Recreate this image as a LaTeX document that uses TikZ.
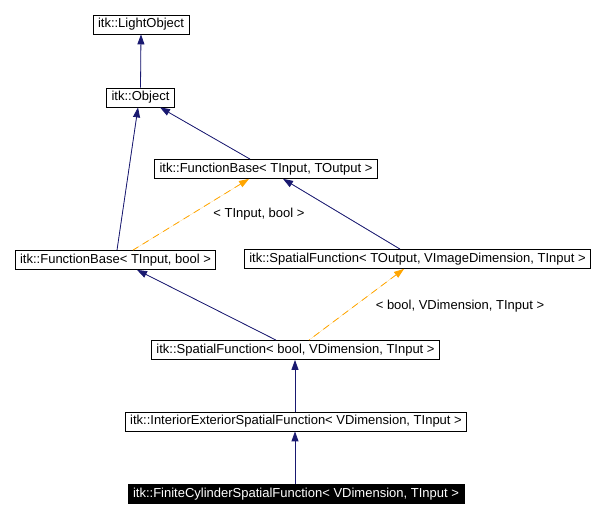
\documentclass[tikz,border=0pt]{standalone}
\usepackage{fontspec}
\setmainfont{Liberation Sans}
\usepackage{tikz}
\usetikzlibrary{arrows.meta}
\definecolor{inhblue}{RGB}{25,25,112}
\definecolor{tmplorange}{RGB}{255,165,0}

\begin{document}
\begin{tikzpicture}[x=1pt, y=-1pt,
  box/.style={draw, thick, minimum height=19pt, inner xsep=5pt, inner ysep=0pt, text height=9.5pt, text depth=2.5pt, font=\fontsize{13}{15}\selectfont},
  hl/.style={box, fill=black, text=white},
  inh/.style={{Triangle[length=10pt, width=7pt]}-, draw=inhblue, fill=inhblue, line width=0.8pt},
  tmpl/.style={{Triangle[length=10pt, width=7pt]}-, draw=tmplorange, fill=tmplorange, line width=0.8pt, dash pattern=on 7pt off 5pt},
  lbl/.style={font=\fontsize{13}{15}\selectfont, inner sep=1pt},
]
  \useasboundingbox (0,0) rectangle (606,518);
  \node[box] (lo) at (141,24.5) {itk::LightObject};
  \node[box] (obj) at (140.5,97.5) {itk::Object};
  \node[box] (fbio) at (266,169) {itk::FunctionBase< TInput, TOutput >};
  \node[box] (fbib) at (115.5,260) {itk::FunctionBase< TInput, bool >};
  \node[box] (sfo) at (417.5,259) {itk::SpatialFunction< TOutput, VImageDimension, TInput >};
  \node[box] (sfb) at (295.5,350) {itk::SpatialFunction< bool, VDimension, TInput >};
  \node[box] (iesf) at (296,421.5) {itk::InteriorExteriorSpatialFunction< VDimension, TInput >};
  \node[hl] (fcsf) at (296,494) {itk::FiniteCylinderSpatialFunction< VDimension, TInput >};
  % inheritance
  \draw[inh] (lo.south) -- (obj.north);
  \draw[inh] ([xshift=-2.5pt]obj.south) -- ([xshift=1.5pt]fbib.north);
  \draw[inh] ([xshift=19.5pt]obj.south) -- ([xshift=-16pt]fbio.north);
  \draw[inh] ([xshift=17pt]fbio.south) -- ([xshift=-17.5pt]sfo.north);
  \draw[inh] ([xshift=21.5pt]fbib.south) -- ([xshift=-19.5pt]sfb.north);
  \draw[inh] ([xshift=-0.5pt]sfb.south) -- ([xshift=-1pt]iesf.north);
  \draw[inh] ([xshift=-1pt]iesf.south) -- ([xshift=-1pt]fcsf.north);
  % template instances
  \draw[tmpl] ([xshift=-17pt]fbio.south) -- ([xshift=17.5pt]fbib.north);
  \draw[tmpl] ([xshift=-13.5pt]sfo.south) -- ([xshift=13.5pt]sfb.north);
  \node[lbl] (l1) at (259,214) {< TInput, bool >};
  \node[lbl] (l2) at (460,306) {< bool, VDimension, TInput >};
\end{tikzpicture}
\end{document}
